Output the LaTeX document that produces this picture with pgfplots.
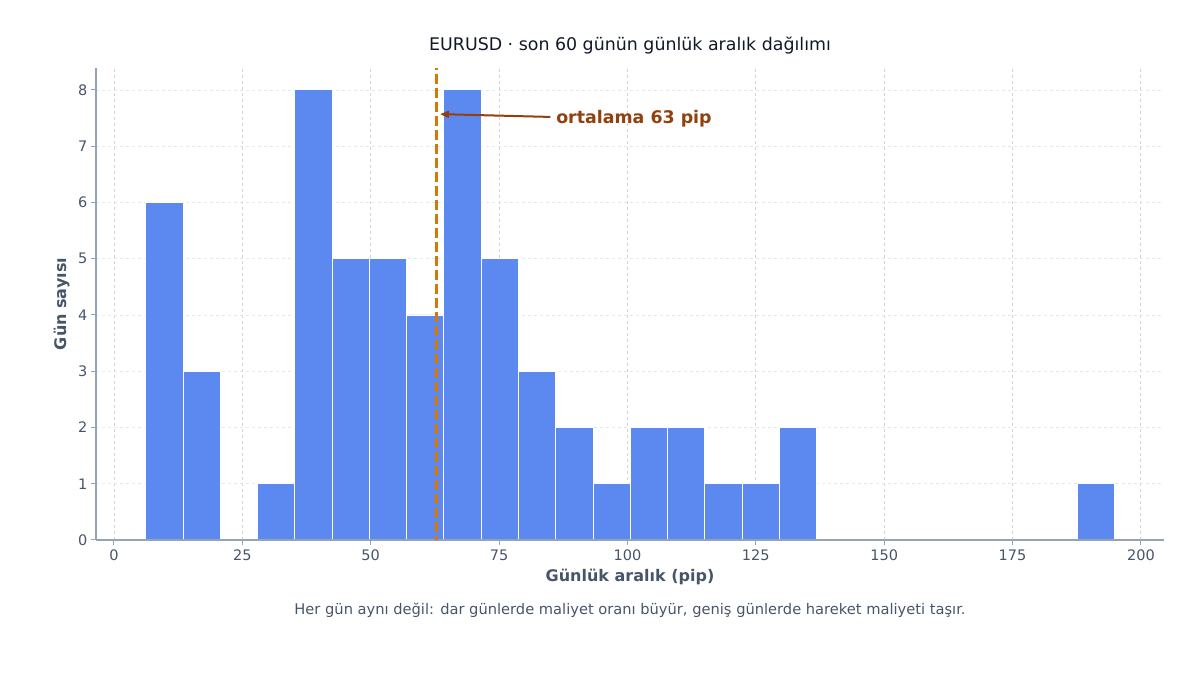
\documentclass[border=0pt]{standalone}
\usepackage{pgfplots}
\pgfplotsset{compat=1.18}
\usetikzlibrary{arrows.meta}
\usepackage{fontspec}
\setmainfont{DejaVu Sans}
\definecolor{barblue}{HTML}{5B89F0}
\definecolor{spine}{HTML}{94A3B8}
\definecolor{ticklab}{HTML}{475569}
\definecolor{gridx}{HTML}{CBD5E1}
\definecolor{gridy}{HTML}{E2E8F0}
\definecolor{meanc}{HTML}{D97706}
\definecolor{annc}{HTML}{92400E}
\definecolor{titlec}{HTML}{111827}
\begin{document}
\begin{tikzpicture}[x=1pt,y=1pt]
\useasboundingbox (0,0) rectangle (1200,675);
\begin{axis}[
  at={(96pt,135pt)}, anchor=south west,
  scale only axis, width=1068pt, height=472pt,
  xmin=-3.5, xmax=204.5, ymin=0, ymax=8.39,
  axis x line*=bottom, axis y line*=left,
  axis line style={spine, line width=1.4pt, -},
  xtick={0,25,...,200}, ytick={0,1,...,8},
  tick style={spine, line width=1pt},
  tick align=outside, major tick length=5pt,
  ticklabel style={font=\fontsize{14.5}{16}\selectfont, text=ticklab},
  /pgf/number format/assume math mode=true,
  xmajorgrids, ymajorgrids,
  x grid style={gridx, dashed, line width=0.8pt},
  y grid style={gridy, dashed, line width=0.8pt},
  xticklabel style={yshift=-1pt},
  clip=false,
]
\addplot[ybar interval, fill=barblue, draw=white, line width=0.9pt] coordinates {
 (6.20,6) (13.46,3) (20.72,3)};
\addplot[ybar interval, fill=barblue, draw=white, line width=0.9pt] coordinates {
 (27.97,1) (35.23,8) (42.49,5) (49.75,5) (57.01,4) (64.26,8) (71.52,5) (78.78,3)
 (86.04,2) (93.30,1) (100.55,2) (107.81,2) (115.07,1) (122.33,1) (129.59,2) (136.84,2)};
\addplot[ybar interval, fill=barblue, draw=white, line width=0.9pt] coordinates {
 (187.65,1) (194.91,1)};
\draw[spine, line width=1.4pt] (rel axis cs:0,0) -- (rel axis cs:1,0);
\addplot[meanc, line width=3pt, dash pattern=on 9.5pt off 4.5pt, dash phase=6pt] coordinates {(62.85,0) (62.85,8.39)};
\draw[annc, line width=2pt, -{Stealth[length=9pt,width=7pt,inset=0pt]}] (axis cs:85,7.52) -- (axis cs:63.5,7.57);
\node[anchor=west, text=annc, font=\fontsize{17.4}{20}\selectfont\bfseries, inner sep=0pt] at (axis cs:86.1,7.49) {ortalama 63 pip};
\end{axis}
\node[text=titlec, font=\fontsize{17.4}{20}\selectfont] at (630,630) {EURUSD · son 60 günün günlük aralık dağılımı};
\node[text=ticklab, font=\fontsize{16}{18}\selectfont\bfseries] at (630,98) {Günlük aralık (pip)};
\node[text=ticklab, font=\fontsize{16}{18}\selectfont\bfseries, rotate=90] at (62,371) {Gün sayısı};
\node[text=ticklab, font=\fontsize{14.65}{17}\selectfont] at (630,65) {Her gün aynı değil: dar günlerde maliyet oranı büyür, geniş günlerde hareket maliyeti taşır.};
\end{tikzpicture}
\end{document}
